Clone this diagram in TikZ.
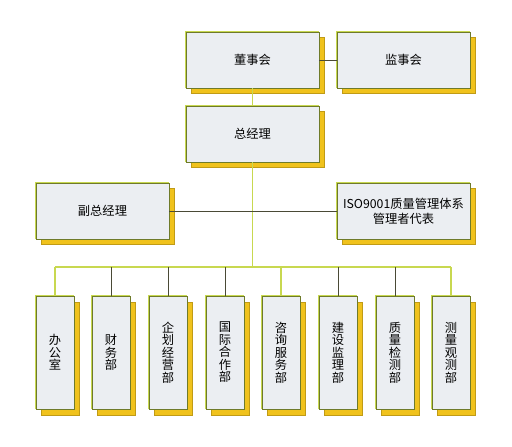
\documentclass[tikz,border=0pt]{standalone}
\usepackage{fontspec}
\setmainfont{Noto Sans CJK SC}
\definecolor{boxfill}{HTML}{EBEEF2}
\definecolor{boxedge}{HTML}{6E7A2A}
\definecolor{shadowc}{HTML}{F0C21C}
\definecolor{lineY}{HTML}{C8D850}
\definecolor{lineD}{HTML}{4A4A36}
\tikzset{
  x=0.75pt, y=-0.75pt,
  orgbox/.style={draw=boxedge, line width=0.6pt, fill=boxfill, inner sep=0pt, align=center,
    font=\fontsize{9.2}{11}\selectfont},
  bigbox/.style={orgbox, minimum width=99.75pt, minimum height=42pt},
  tallbox/.style={orgbox, minimum width=28.5pt, minimum height=84.75pt,
    font=\fontsize{9.2}{9.4}\selectfont},
  shadowbox/.style={fill=shadowc, draw=shadowc!80!black, line width=0.4pt},
  conY/.style={draw=lineY, line width=0.8pt},
  conD/.style={draw=lineD, line width=0.7pt},
  leftedge/.style={draw=lineY, line width=0.7pt},
}
\newcommand{\bigshadow}[2]{\fill[shadowbox] (#1+5,#2+5) rectangle (#1+138,#2+61);}
\newcommand{\tallshadow}[2]{\fill[shadowbox] (#1+5,#2+6) rectangle (#1+43,#2+119);}
\begin{document}
\begin{tikzpicture}
\useasboundingbox (0,0) rectangle (512,447);
% shadows
\bigshadow{186}{32}
\bigshadow{337}{32}
\bigshadow{186}{106}
\bigshadow{36}{183}
\bigshadow{337}{183}
\foreach \cx in {55,111,168,225,281,338,395,451}{
  \tallshadow{\cx-19}{296}
}
% boxes
\node[bigbox] (dsh) at (252.5,60) {董事会};
\node[bigbox] (jsh) at (403.5,60) {监事会};
\node[bigbox] (zjl) at (252.5,134) {总经理};
\node[bigbox] (fzjl) at (102.5,211) {副总经理};
\node[bigbox] (iso) at (403.5,211) {ISO9001质量管理体系\\管理者代表};
\node[tallbox] (d1) at (55,352.5) {办\\公\\室};
\node[tallbox] (d2) at (111,352.5) {财\\务\\部};
\node[tallbox] (d3) at (168,352.5) {企\\划\\经\\营\\部};
\node[tallbox] (d4) at (225,352.5) {国\\际\\合\\作\\部};
\node[tallbox] (d5) at (281,352.5) {咨\\询\\服\\务\\部};
\node[tallbox] (d6) at (338,352.5) {建\\设\\监\\理\\部};
\node[tallbox] (d7) at (395,352.5) {质\\量\\检\\测\\部};
\node[tallbox] (d8) at (451,352.5) {测\\量\\观\\测\\部};
\foreach \n in {dsh,jsh,zjl,fzjl,iso,d1,d2,d3,d4,d5,d6,d7,d8}{
  \draw[leftedge] (\n.south west) -- (\n.north west) -- (\n.north east);
}
% connectors
\coordinate (busL) at (55,267);
\coordinate (busR) at (451,267);
\coordinate (busM) at (252.5,267);
\draw[conD] (dsh.east) -- (jsh.west);
\draw[conY] (dsh.south) -- (zjl.north);
\draw[conY] (zjl.south) -- (busM);
\draw[conD] (fzjl.east) -- (iso.west);
\draw[conY] (busL) -- (busR);
\draw[conY] (busL) -- (d1.north);
\draw[conD] (d2.north |- busL) -- (d2.north);
\draw[conD] (d3.north |- busL) -- (d3.north);
\draw[conD] (d4.north |- busL) -- (d4.north);
\draw[conY] (d5.north |- busL) -- (d5.north);
\draw[conD] (d6.north |- busL) -- (d6.north);
\draw[conD] (d7.north |- busL) -- (d7.north);
\draw[conY] (busR) -- (d8.north);
\end{tikzpicture}
\end{document}
